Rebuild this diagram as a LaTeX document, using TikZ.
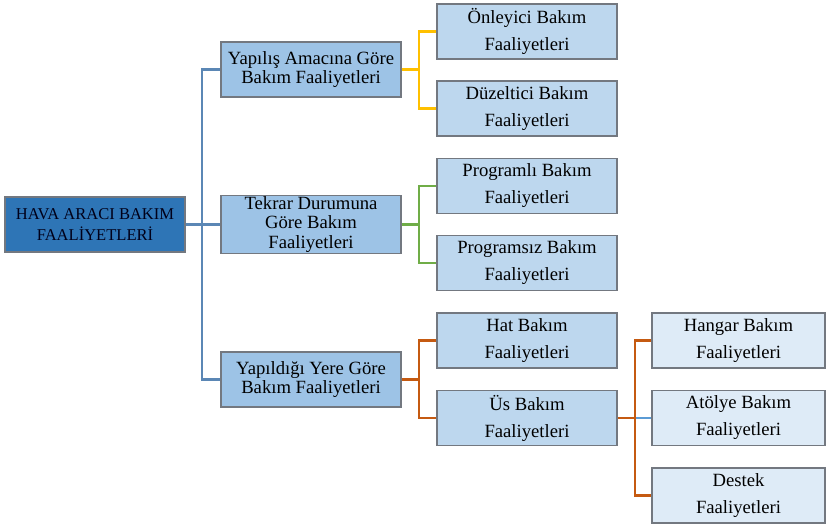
\documentclass[tikz,border=0pt]{standalone}
\usepackage{fontspec}
\setmainfont{Liberation Serif}
\usetikzlibrary{positioning}
\definecolor{rootblue}{HTML}{2E75B6}
\definecolor{midblue}{HTML}{9DC3E6}
\definecolor{lightblue}{HTML}{BDD7EE}
\definecolor{paleblue}{HTML}{DEEBF7}
\definecolor{boxgray}{HTML}{737880}
\definecolor{trunkblue}{HTML}{5B87B5}
\definecolor{linkyellow}{HTML}{FFC000}
\definecolor{linkgreen}{HTML}{70AD47}
\definecolor{linkorange}{HTML}{C55A11}
\definecolor{linkblue}{HTML}{5B9BD5}

\begin{document}
\begin{tikzpicture}[x=0.75pt,y=-0.75pt,
    every node/.style={draw=boxgray, line width=0.9pt, align=center, inner sep=1pt},
    rootbox/.style={fill=rootblue, text=black!90!blue, minimum width=135pt, minimum height=41.25pt,
        font=\fontsize{12.4}{15.75}\selectfont},
    groupbox/.style={fill=midblue, minimum width=135pt, minimum height=41.25pt,
        font=\fontsize{14}{14.5}\selectfont},
    itembox/.style={fill=lightblue, minimum width=135pt, minimum height=41.25pt,
        font=\fontsize{14}{20.25}\selectfont},
    subbox/.style={fill=paleblue, minimum width=129.75pt, minimum height=41.25pt,
        font=\fontsize{14}{20.25}\selectfont},
    trunk/.style={draw=trunkblue, line width=1.6pt},
    link/.style={line width=1.6pt}]
    \useasboundingbox (0,0) rectangle (826,525);

    \node[rootbox] (root) at (95,224.5) {HAVA ARACI BAKIM\\FAALİYETLERİ};

    \node[groupbox] (amac) at (311,69.5) {Yapılış Amacına Göre\\Bakım Faaliyetleri};
    \node[groupbox] (tekrar) at (311,224.5) {Tekrar Durumuna\\Göre Bakım\\Faaliyetleri};
    \node[groupbox] (yer) at (311,379.5) {Yapıldığı Yere Göre\\Bakım Faaliyetleri};

    \node[itembox] (onleyici) at (527,31.5) {Önleyici Bakım\\Faaliyetleri};
    \node[itembox] (duzeltici) at (527,108.5) {Düzeltici Bakım\\Faaliyetleri};
    \node[itembox] (programli) at (527,186) {Programlı Bakım\\Faaliyetleri};
    \node[itembox] (programsiz) at (527,263) {Programsız Bakım\\Faaliyetleri};
    \node[itembox] (hat) at (527,340.5) {Hat Bakım\\Faaliyetleri};
    \node[itembox] (us) at (527,418) {Üs Bakım\\Faaliyetleri};

    \node[subbox] (hangar) at (738.5,340.5) {Hangar Bakım\\Faaliyetleri};
    \node[subbox] (atolye) at (738.5,418) {Atölye Bakım\\Faaliyetleri};
    \node[subbox] (destek) at (738.5,495.5) {Destek\\Faaliyetleri};

    \coordinate (rootbus) at (202,224.5);
    \coordinate (amacbus) at (419,69.5);
    \coordinate (tekrarbus) at (419,224.5);
    \coordinate (yerbus) at (419,379.5);
    \coordinate (usbus) at (635,418);

    \draw[trunk] (root.east) -- (tekrar.west);
    \draw[trunk] (amac.west) -| (rootbus) |- (yer.west);

    \draw[link, linkyellow] (amac.east) -- (amacbus);
    \draw[link, linkyellow] (onleyici.west) -| (amacbus) |- (duzeltici.west);
    \draw[link, linkgreen] (tekrar.east) -- (tekrarbus);
    \draw[link, linkgreen] (programli.west) -| (tekrarbus) |- (programsiz.west);
    \draw[link, linkorange] (yer.east) -- (yerbus);
    \draw[link, linkorange] (hat.west) -| (yerbus) |- (us.west);

    \draw[link, linkblue] (usbus) -- (atolye.west);
    \draw[link, linkorange] (us.east) -- (usbus);
    \draw[link, linkorange] (hangar.west) -| (usbus) |- (destek.west);
\end{tikzpicture}
\end{document}
